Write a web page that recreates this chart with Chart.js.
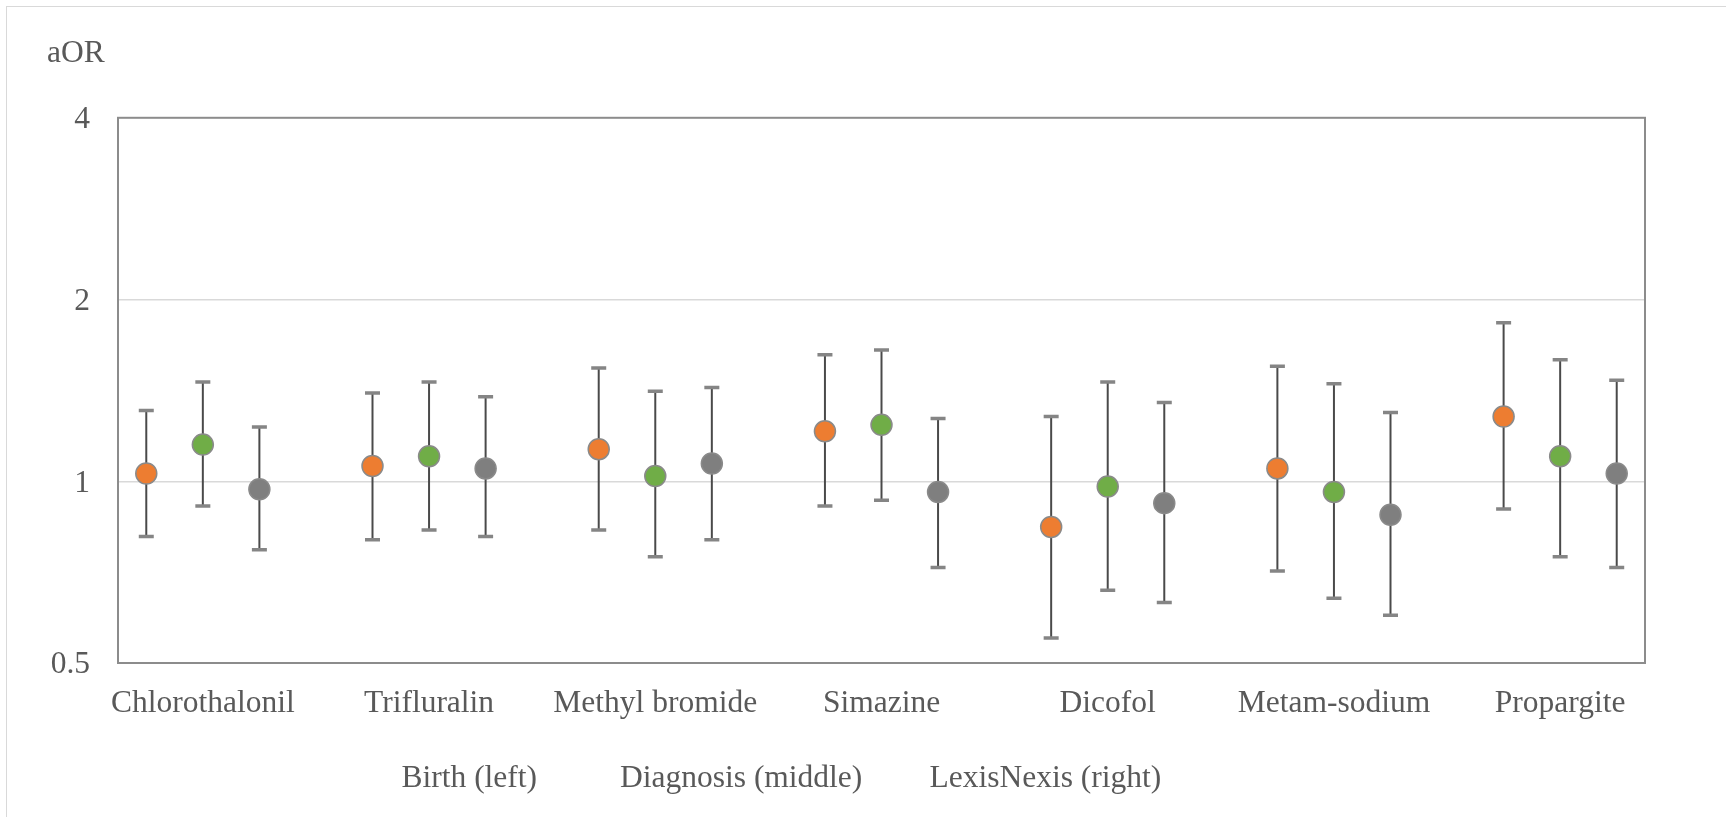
<!DOCTYPE html>
<html>
<head>
<meta charset="utf-8">
<script src="https://cdn.jsdelivr.net/npm/chart.js@4/dist/chart.umd.min.js"></script>
<style>
  html, body { margin: 0; padding: 0; background: #ffffff; }
  #wrap { position: relative; width: 1726px; height: 817px; overflow: hidden; }
  #frame { position: absolute; left: 6px; top: 6px; right: -10px; bottom: -10px;
           border-left: 1.5px solid #d9d9d9; border-top: 1.5px solid #d9d9d9; }
  canvas { position: absolute; left: 0; top: 0; }
</style>
</head>
<body>
<div id="wrap">
  <div id="frame"></div>
  <canvas id="c" width="1726" height="817" style="width:1726px;height:817px"></canvas>
</div>
<script>
// ---- data ----
const categories = ['Chlorothalonil', 'Trifluralin', 'Methyl bromide', 'Simazine', 'Dicofol', 'Metam-sodium', 'Propargite'];
const seriesNames = ['Birth (left)', 'Diagnosis (middle)', 'LexisNexis (right)'];
const birthOR = [1.03, 1.06, 1.13, 1.21, 0.84, 1.05, 1.28];
const birthLo = [0.81, 0.80, 0.83, 0.91, 0.55, 0.71, 0.90];
const birthHi = [1.31, 1.40, 1.54, 1.62, 1.28, 1.55, 1.83];
const diagOR  = [1.15, 1.10, 1.02, 1.24, 0.98, 0.96, 1.10];
const diagLo  = [0.91, 0.83, 0.75, 0.93, 0.66, 0.64, 0.75];
const diagHi  = [1.46, 1.46, 1.41, 1.65, 1.46, 1.45, 1.59];
const lexOR   = [0.97, 1.05, 1.07, 0.96, 0.92, 0.88, 1.03];
const lexLo   = [0.77, 0.81, 0.80, 0.72, 0.63, 0.60, 0.72];
const lexHi   = [1.23, 1.38, 1.43, 1.27, 1.35, 1.30, 1.47];
const yTicks = [0.5, 1, 2, 4];
const yLabel = 'aOR';

// ---- styling ----
const FONT = '"Liberation Serif", "Times New Roman", serif';
const FS = 31.5;
const TEXT = '#595959';
const colors = ['#ED7D31', '#70AD47', '#7F7F7F'];
const offsets = [-0.25, 0, 0.25];
const series = [
  { or: birthOR, lo: birthLo, hi: birthHi },
  { or: diagOR,  lo: diagLo,  hi: diagHi },
  { or: lexOR,   lo: lexLo,   hi: lexHi }
];

const datasets = [];
series.forEach((s, k) => {
  datasets.push({
    type: 'scatter',
    label: seriesNames[k],
    data: categories.map((c, i) => ({ x: i + 1 + offsets[k], y: s.or[i] })),
    pointRadius: 10.5,
    pointBackgroundColor: colors[k],
    pointBorderColor: '#8a8a8a',
    pointBorderWidth: 1.5,
    order: 0
  });
});
series.forEach((s, k) => {
  const pts = [];
  categories.forEach((c, i) => {
    const x = i + 1 + offsets[k];
    pts.push({ x: x, y: s.lo[i] }, { x: x, y: s.hi[i] }, { x: x, y: null });
  });
  datasets.push({
    type: 'scatter',
    label: seriesNames[k] + ' CI',
    data: pts,
    showLine: true,
    spanGaps: false,
    borderColor: '#4a4a4a',
    borderWidth: 2,
    pointStyle: 'line',
    pointRadius: 7.5,
    pointBorderColor: '#858585',
    pointBorderWidth: 3.5,
    pointBackgroundColor: '#858585',
    order: 1
  });
});

const plotFrame = {
  id: 'plotFrame',
  beforeDatasetsDraw(chart) {
    const a = chart.chartArea, ctx = chart.ctx;
    ctx.save();
    ctx.strokeStyle = '#8c8c8c';
    ctx.lineWidth = 2;
    ctx.strokeRect(a.left, a.top, a.right - a.left, a.bottom - a.top);
    ctx.restore();
  }
};

const textLegend = {
  id: 'textLegend',
  afterDraw(chart) {
    const ctx = chart.ctx;
    const xs = [401.5, 620, 929.5];
    ctx.save();
    ctx.font = FS + 'px ' + FONT;
    ctx.fillStyle = TEXT;
    ctx.textAlign = 'left';
    ctx.textBaseline = 'alphabetic';
    seriesNames.forEach((n, i) => ctx.fillText(n, xs[i], 786.5));
    ctx.restore();
  }
};

new Chart(document.getElementById('c'), {
  type: 'scatter',
  data: { datasets },
  plugins: [plotFrame, textLegend],
  options: {
    responsive: false,
    animation: false,
    events: [],
    layout: { padding: { left: 47, right: 81, top: 0, bottom: 97 } },
    plugins: {
      legend: { display: false },
      tooltip: { enabled: false },
      title: {
        display: true,
        text: yLabel,
        align: 'start',
        color: TEXT,
        font: { family: FONT, size: FS, weight: 'normal' },
        padding: { top: 35, bottom: 45 }
      }
    },
    scales: {
      x: {
        type: 'linear',
        min: 0.625,
        max: 7.375,
        afterBuildTicks: (s) => { s.ticks = categories.map((c, i) => ({ value: i + 1 })); },
        afterFit: (s) => { s.height = 57; },
        grid: { display: false, drawTicks: false },
        border: { display: false },
        ticks: {
          autoSkip: false,
          maxRotation: 0,
          padding: 21.5,
          color: TEXT,
          font: { family: FONT, size: FS },
          callback: (v) => categories[Math.round(v) - 1]
        }
      },
      y: {
        type: 'logarithmic',
        min: 0.5,
        max: 4,
        afterBuildTicks: (s) => { s.ticks = yTicks.map(v => ({ value: v })); },
        afterFit: (s) => { s.width = 71; },
        grid: {
          drawTicks: false,
          lineWidth: 1.5,
          color: (ctx) => (ctx.tick && (ctx.tick.value === 1 || ctx.tick.value === 2)) ? '#d9d9d9' : 'rgba(0,0,0,0)'
        },
        border: { display: false },
        ticks: {
          padding: 28,
          labelOffset: 2,
          color: TEXT,
          font: { family: FONT, size: FS },
          callback: (v) => String(v)
        }
      }
    }
  }
});
</script>
</body>
</html>
